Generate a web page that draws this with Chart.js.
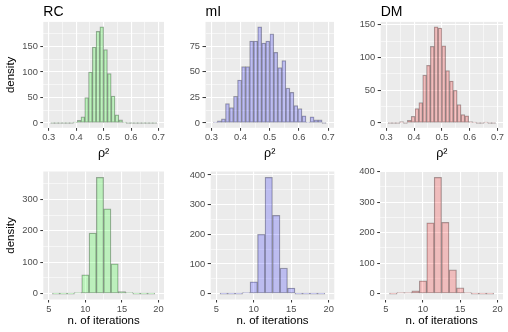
<!DOCTYPE html>
<html><head><meta charset="utf-8">
<script src="https://cdn.jsdelivr.net/npm/chart.js@4"></script>
<style>
html,body{margin:0;padding:0;background:#fff;}
#wrap{position:relative;width:508px;height:332px;overflow:hidden;background:#fff;}
canvas{position:absolute;}
</style></head><body><div id="wrap">
<canvas id="t0" width="169" height="166" style="left:0px;top:0px"></canvas>
<canvas id="t1" width="170" height="166" style="left:169px;top:0px"></canvas>
<canvas id="t2" width="169" height="166" style="left:339px;top:0px"></canvas>
<canvas id="b0" width="169" height="166" style="left:0px;top:166px"></canvas>
<canvas id="b1" width="170" height="166" style="left:169px;top:166px"></canvas>
<canvas id="b2" width="169" height="166" style="left:339px;top:166px"></canvas>
</div>
<script>
// ---- data ----
const panelTitles = ['RC', 'mI', 'DM'];
const rhoBins = [0.31379,0.32759,0.34138,0.35517,0.36897,0.38276,0.39655,0.41034,0.42414,0.43793,
                 0.45172,0.46552,0.47931,0.49310,0.50690,0.52069,0.53448,0.54828,0.56207,0.57586,
                 0.58966,0.60345,0.61724,0.63103,0.64483,0.65862,0.67241,0.68621];
const rhoRC = [0,0,0,0,0,0,1,5,12,50,100,149,180,189,144,97,53,16,6,2,0,0,0,0,0,0,0,0];
const rhoMI = [1,2,4,19,15,26,42,55,55,80,80,94,78,80,87,69,54,61,34,30,17,14,7,1,6,3,3,0];
const rhoDM = [0,0,0,2,0,4,10,22,31,73,88,117,147,145,118,80,64,50,28,13,11,2,1,0,0,1,0,0];
const iterBins = [6,7,8,9,10,11,12,13,14,15,16,17,18,19];
const iterRC = [0,0,0,2,60,193,370,270,95,7,2,0,0,0];
const iterMI = [0,0,0,2,40,200,392,264,86,19,0,0,0,0];
const iterDM = [0,1,2,9,42,232,381,234,78,19,3,0,0,0];
const rhoTicks = [0.3,0.4,0.5,0.6,0.7];
const rhoTickLabels = ['0.3','0.4','0.5','0.6','0.7'];
const iterTicks = [5,10,15,20];
const iterTickLabels = ['5','10','15','20'];
const yTicksRhoRC = [0,50,100,150];
const yTicksRhoMI = [0,25,50,75];
const yTicksRhoDM = [0,50,100,150];
const yTicksIterRC = [0,100,200,300];
const yTicksIterMI = [0,100,200,300,400];
const yTicksIterDM = [0,100,200,300,400];
const fills = ['rgba(0,255,0,0.2)','rgba(0,0,255,0.2)','rgba(255,0,0,0.2)'];

// ---- drawing ----
const FONT = '"Liberation Sans", Arial, Helvetica, sans-serif';
function isMaj(arr, v){ return arr.some(m => Math.abs(m - v) < 1e-9); }
function withMinor(majors, lo, hi){
  const step = majors[1] - majors[0];
  const out = majors.filter(v => v >= lo && v <= hi);
  for (let i = -1; i < majors.length + 2; i++) {
    const v = majors[0] + step * i + step / 2;
    if (v >= lo && v <= hi) out.push(v);
  }
  return out.sort((a,b)=>a-b);
}
function gridOpts(arr){
  return {
    color: '#ffffff',
    lineWidth: c => (c.tick && isMaj(arr, c.tick.value)) ? 1.1 : 0.55,
    tickColor: c => (c.tick && isMaj(arr, c.tick.value)) ? '#333333' : 'rgba(0,0,0,0)',
    tickLength: 3, tickWidth: 1, drawTicks: true, offset: false, drawOnChartArea: true
  };
}
function zeroPad(s){ s.paddingLeft = 0; s.paddingRight = 0; s.paddingTop = 0; s.paddingBottom = 0; }
function panel(id, o){
  const dataMax = Math.max(...o.values);
  const yMin = -0.05 * dataMax, yMax = 1.05 * dataMax;
  const xAll = withMinor(o.xTicks, o.xMin, o.xMax);
  const yAll = withMinor(o.yTicks, yMin, yMax);
  new Chart(document.getElementById(id), {
    type: 'bar',
    data: { datasets: [{
      data: o.bins.map((b,i) => ({x: b, y: o.values[i]})),
      backgroundColor: o.fill,
      borderColor: 'rgba(40,40,40,0.38)',
      borderWidth: 0.6,
      borderSkipped: false,
      minBarLength: 1,
      barPercentage: 1,
      categoryPercentage: 1
    }]},
    options: {
      responsive: false, animation: false, devicePixelRatio: 1,
      layout: { padding: { left: 0, right: o.padR, top: o.padT, bottom: 0 } },
      plugins: {
        legend: { display: false }, tooltip: { enabled: false },
        title: o.title ? { display: true, text: o.title, align: 'start', fullSize: false, color: '#000',
          font: { family: FONT, size: 14, lineHeight: 1.15, weight: 'normal' }, padding: { top: 0, bottom: 1.9 } }
          : { display: false }
      },
      scales: {
        x: {
          type: 'linear', min: o.xMin, max: o.xMax, offset: false,
          afterBuildTicks: s => { s.ticks = xAll.map(v => ({value: v})); },
          afterFit: s => { s.height = o.xH; zeroPad(s); },
          ticks: { autoSkip: false, maxRotation: 0, minRotation: 0, padding: 1, color: '#4d4d4d',
            font: { family: FONT, size: 9.3 },
            callback: v => { const i = o.xTicks.findIndex(m => Math.abs(m - v) < 1e-9); return i >= 0 ? o.xLabels[i] : ''; } },
          grid: gridOpts(o.xTicks), border: { display: false },
          title: { display: true, text: o.xTitle, color: '#000', font: { family: FONT, size: o.xTitleSize },
            padding: { top: 0, bottom: o.xTitlePad } }
        },
        y: {
          type: 'linear', min: yMin, max: yMax,
          afterBuildTicks: s => { s.ticks = yAll.map(v => ({value: v})); },
          afterFit: s => { s.width = o.yW; zeroPad(s); },
          ticks: { autoSkip: false, padding: 2.5, color: '#4d4d4d', font: { family: FONT, size: 9.3 },
            callback: v => isMaj(o.yTicks, v) ? String(o.yTicks.find(m => Math.abs(m - v) < 1e-9)) : '' },
          grid: gridOpts(o.yTicks), border: { display: false },
          title: { display: !!o.yTitle, text: o.yTitle || '', color: '#000', font: { family: FONT, size: 11.5 },
            padding: { top: 4.2, bottom: 0 } }
        }
      }
    },
    plugins: [{
      id: 'panelBg',
      beforeDraw(chart){
        const {ctx, chartArea: a} = chart;
        ctx.save(); ctx.fillStyle = '#ebebeb';
        ctx.fillRect(a.left, a.top, a.right - a.left, a.bottom - a.top);
        ctx.restore();
      }
    }]
  });
}

const topCommon = { bins: rhoBins, xTicks: rhoTicks, xLabels: rhoTickLabels, xMin: 0.28, xMax: 0.72,
  xTitle: 'ρ²', xTitleSize: 12.5, padT: 3.9, xH: 38.2, xTitlePad: 5.2 };
const botCommon = { bins: iterBins, xTicks: iterTicks, xLabels: iterTickLabels, xMin: 4.25, xMax: 20.75,
  xTitle: 'n. of iterations', xTitleSize: 11.5, padT: 5.5, xH: 32.5, xTitlePad: 4.1, title: null };

panel('t0', Object.assign({}, topCommon, { values: rhoRC, yTicks: yTicksRhoRC, fill: fills[0], title: panelTitles[0], yTitle: 'density', yW: 43.3, padR: 5 }));
panel('t1', Object.assign({}, topCommon, { values: rhoMI, yTicks: yTicksRhoMI, fill: fills[1], title: panelTitles[1], yW: 36.5, padR: 5 }));
panel('t2', Object.assign({}, topCommon, { values: rhoDM, yTicks: yTicksRhoDM, fill: fills[2], title: panelTitles[2], yW: 41.7, padR: 5 }));
panel('b0', Object.assign({}, botCommon, { values: iterRC, yTicks: yTicksIterRC, fill: fills[0], yTitle: 'density', yW: 43.3, padR: 5 }));
panel('b1', Object.assign({}, botCommon, { values: iterMI, yTicks: yTicksIterMI, fill: fills[1], yW: 41.7, padR: 4.7 }));
panel('b2', Object.assign({}, botCommon, { values: iterDM, yTicks: yTicksIterDM, fill: fills[2], yW: 41.2, padR: 5 }));
</script>
</body></html>
